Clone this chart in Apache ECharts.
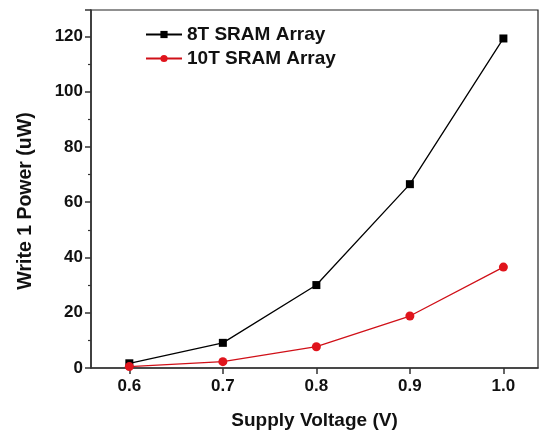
<!DOCTYPE html>
<html>
<head>
<meta charset="utf-8">
<script src="https://cdn.jsdelivr.net/npm/echarts@6/dist/echarts.min.js"></script>
<style>
html, body { margin: 0; padding: 0; background: #fff; }
#main { width: 545px; height: 439px; }
</style>
</head>
<body>
<div id="main"></div>
<script>
// supply voltage (V)
var voltage = [0.6, 0.7, 0.8, 0.9, 1.0];
// write 1 power (uW)
var sram8T = [1.7, 9.1, 30.0, 66.5, 119.2];
var sram10T = [0.5, 2.3, 7.7, 18.8, 36.5];
var xTicks = [0.6, 0.7, 0.8, 0.9, 1.0];

var font = 'Liberation Sans, Arial, sans-serif';

function pairs(xs, ys) {
  return xs.map(function (x, i) { return [x, ys[i]]; });
}

var myChart = echarts.init(document.getElementById('main'));
var option = {
  animation: false,
  grid: {
    left: 91, right: 7, top: 10, bottom: 71,
    show: true, borderColor: '#222', borderWidth: 1.2
  },
  legend: {
    orient: 'vertical',
    left: 140, top: 20,
    itemWidth: 36, itemHeight: 9, itemGap: 5,
    textStyle: { fontFamily: font, fontWeight: 'bold', fontSize: 19, color: '#111' },
    data: ['8T SRAM Array', '10T SRAM Array']
  },
  xAxis: {
    type: 'value',
    min: 0.559, max: 1.037,
    name: 'Supply Voltage (V)',
    nameLocation: 'middle',
    nameGap: 43,
    nameTextStyle: { fontFamily: font, fontWeight: 'bold', fontSize: 19, color: '#111' },
    axisLine: { show: true, lineStyle: { color: '#333', width: 1.6 } },
    axisTick: { show: true, customValues: xTicks, length: 6, lineStyle: { color: '#333', width: 1.5 } },
    axisLabel: {
      customValues: xTicks, margin: 10,
      fontFamily: font, fontWeight: 'bold', fontSize: 17, color: '#111',
      formatter: function (v) { return v.toFixed(1); }
    },
    splitLine: { show: false }
  },
  yAxis: {
    type: 'value',
    min: 0, max: 129.5, interval: 20,
    name: 'Write 1 Power (uW)',
    nameLocation: 'middle',
    nameGap: 55,
    nameTextStyle: {
      fontFamily: font, fontWeight: 'bold', fontSize: 19.5, color: '#111',
      padding: [0, 24, 0, 0]
    },
    axisLine: { show: true, lineStyle: { color: '#333', width: 1.6 } },
    axisTick: { show: true, length: 6, lineStyle: { color: '#333', width: 1.5 } },
    minorTick: { show: true, splitNumber: 2, length: 3, lineStyle: { color: '#333', width: 1.2 } },
    axisLabel: {
      showMaxLabel: false, margin: 8,
      fontFamily: font, fontWeight: 'bold', fontSize: 17, color: '#111'
    },
    splitLine: { show: false }
  },
  series: [
    {
      name: '8T SRAM Array',
      type: 'line',
      symbol: 'rect',
      symbolSize: 8,
      itemStyle: { color: '#000' },
      lineStyle: { color: '#000', width: 1.3 },
      data: pairs(voltage, sram8T)
    },
    {
      name: '10T SRAM Array',
      type: 'line',
      symbol: 'circle',
      symbolSize: 9,
      itemStyle: { color: '#e0141c' },
      lineStyle: { color: '#d01018', width: 1.3 },
      data: pairs(voltage, sram10T)
    }
  ]
};
myChart.setOption(option);
window.onresize = myChart.resize;
</script>
</body>
</html>
